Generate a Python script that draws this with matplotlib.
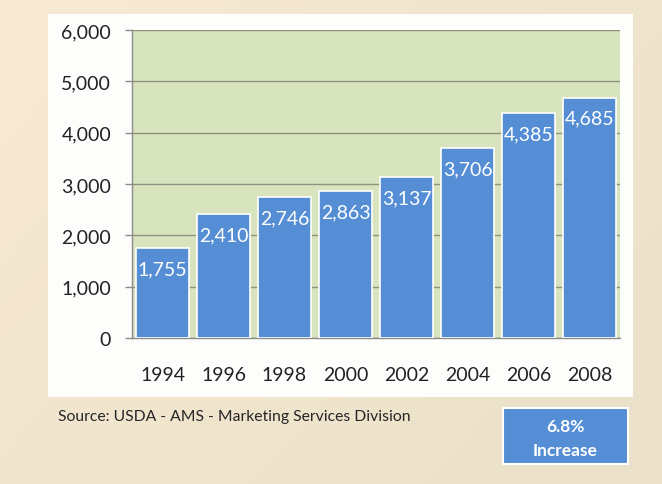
import matplotlib
matplotlib.use("Agg")
import matplotlib.pyplot as plt
import numpy as np
from matplotlib.patches import Rectangle

years = ["1994", "1996", "1998", "2000", "2002", "2004", "2006", "2008"]
markets = [1755, 2410, 2746, 2863, 3137, 3706, 4385, 4685]
yticks = [0, 1000, 2000, 3000, 4000, 5000, 6000]
source_text = "Source: USDA - AMS - Marketing Services Division"
badge_lines = ["6.8%", "Increase"]

plt.rcParams['font.family'] = ['Lato', 'DejaVu Sans']

W, H = 662, 485
fig = plt.figure(figsize=(W / 100, H / 100), dpi=100)

# background gradient
bg = fig.add_axes([0, 0, 1, 1], zorder=0)
bg.set_axis_off()
xx = np.linspace(0, 1, 200)
yy = np.linspace(0, 1, 200)
X, Y = np.meshgrid(xx, yy)
c1 = np.array([248, 233, 212]) / 255.0
c2 = np.array([234, 225, 200]) / 255.0
t = (0.6 * X + 0.4 * Y)
img = c1[None, None, :] * (1 - t[..., None]) + c2[None, None, :] * t[..., None]
bg.imshow(img, extent=[0, 1, 0, 1], aspect='auto', origin='upper')
bg.set_xlim(0, 1)
bg.set_ylim(0, 1)

def px(x0, y0, x1, y1):
    return (x0 / W, 1 - y1 / H, (x1 - x0) / W, (y1 - y0) / H)

# white panel
l, b, w, h = px(48, 15, 633, 398)
bg.add_patch(Rectangle((l, b), w, h, facecolor='#fdfdfb', edgecolor='none', zorder=2))

# badge
l, b, w, h = px(503, 409, 628, 465)
bg.add_patch(Rectangle((l, b), w, h, facecolor='#558ed5', edgecolor='white', linewidth=1.5, zorder=2))
bg.text(l + w / 2, 1 - 427 / H, badge_lines[0], color='white', fontsize=12.5, fontweight='bold',
        ha='center', va='center', zorder=3)
bg.text(l + w / 2, 1 - 451 / H, badge_lines[1], color='white', fontsize=12.5, fontweight='bold',
        ha='center', va='center', zorder=3)

# source
bg.text(58 / W, 1 - 417 / H, source_text, color='#262626', fontsize=11.3,
        ha='left', va='center', zorder=3)

# main chart axes
ax = fig.add_axes([132 / W, 1 - 339 / H, 488 / W, 308 / H], zorder=1)
ax.set_facecolor('#d7e4bd')
x = np.arange(len(years))
bars = ax.bar(x, markets, width=0.86, color='#558ed5', edgecolor='white', linewidth=1.2, zorder=3)
ax.set_xlim(-0.5, len(years) - 0.5)
ax.set_ylim(0, 6000)
ax.set_yticks(yticks)
ax.set_yticklabels([f"{v:,}" for v in yticks])
ax.set_xticks(x)
ax.set_xticklabels(years)
ax.grid(axis='y', color='#8f927e', linewidth=1, zorder=1)
ax.set_axisbelow(True)
for s in ['top', 'right']:
    ax.spines[s].set_visible(False)
for s in ['left', 'bottom']:
    ax.spines[s].set_color('#8c8c8c')
    ax.spines[s].set_linewidth(1)
ax.tick_params(axis='y', length=5, width=1, color='#8c8c8c', pad=10, labelsize=14, labelcolor='#222222')
ax.tick_params(axis='x', length=0, pad=20, labelsize=14, labelcolor='#222222')

for xi, v in zip(x, markets):
    ax.annotate(f"{v:,}", xy=(xi, v), xytext=(0, -15), textcoords='offset points',
                ha='center', va='center', color='white', fontsize=14, zorder=4)

fig.savefig("out.png", dpi=100)
